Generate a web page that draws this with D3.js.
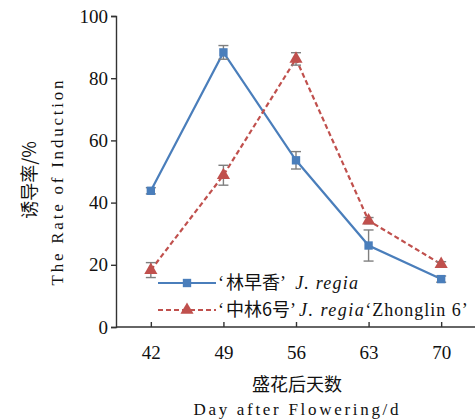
<!DOCTYPE html>
<html lang="zh">
  <head>
    <meta charset="UTF-8" />
    <script src="https://cdn.jsdelivr.net/npm/d3@7"></script>
    <style>
      body { margin: 0; background: #fff; }
      svg { display: block; }
    </style>
  </head>
  <body>
    <div id="chart"></div>
    <script>
      // data
      var days = ["42", "49", "56", "63", "70"];
      var linzaoxiang = [43.8, 88.3, 53.6, 26.2, 15.4];
      var linzaoxiangErr = [1.0, 2.2, 2.8, 5.0, 1.0];
      var zhonglin6 = [18.3, 48.8, 86.2, 34.2, 20.2];
      var zhonglin6Err = [2.4, 3.2, 2.0, 1.0, 0.8];
      var yTicks = [0, 20, 40, 60, 80, 100];

      var width = 475, height = 419;
      var svg = d3.select("#chart").append("svg")
        .attr("width", width)
        .attr("height", height);

      var x = d3.scalePoint().domain(days).range([116, 476]).padding(0.48);
      var y = d3.scaleLinear().domain([0, 100]).range([327, 16]);

      var blue = "#4a7ebb", red = "#c0504d", grey = "#7f7f7f";
      var serif = "'Liberation Serif', 'Times New Roman', serif";
      var cjk = "'Noto Sans CJK SC', sans-serif";

      // axes
      var yAxis = svg.append("g")
        .attr("transform", "translate(116,0)")
        .call(d3.axisLeft(y).tickValues(yTicks).tickSize(5).tickPadding(3));
      var xAxis = svg.append("g")
        .attr("transform", "translate(0,327)")
        .call(d3.axisBottom(x).tickSize(-5).tickPadding(14));
      xAxis.select(".domain").attr("d", "M116,0H475");

      [xAxis, yAxis].forEach(function (g) {
        g.selectAll("path, line").attr("stroke", "#333").attr("stroke-width", 1.4);
        g.selectAll("text")
          .attr("fill", "#111")
          .style("font-family", serif)
          .style("font-size", "19px");
      });
      xAxis.selectAll("text").attr("dy", "0.95em");

      var series = [
        { vals: linzaoxiang, err: linzaoxiangErr, color: blue, dash: null, shape: d3.symbolSquare, size: 70 },
        { vals: zhonglin6, err: zhonglin6Err, color: red, dash: "5,3", shape: d3.symbolTriangle, size: 75 },
      ];

      var line = d3.line()
        .x(function (d, i) { return x(days[i]); })
        .y(function (d) { return y(d); });

      series.forEach(function (s) {
        svg.append("path")
          .datum(s.vals)
          .attr("d", line)
          .attr("fill", "none")
          .attr("stroke", s.color)
          .attr("stroke-width", 2.2)
          .attr("stroke-dasharray", s.dash);
      });

      // error bars
      series.forEach(function (s) {
        var eb = svg.append("g").selectAll("g")
          .data(s.vals)
          .join("g")
          .attr("stroke", grey)
          .attr("stroke-width", 1.4);
        eb.append("line")
          .attr("x1", function (d, i) { return x(days[i]); })
          .attr("x2", function (d, i) { return x(days[i]); })
          .attr("y1", function (d, i) { return y(d + s.err[i]); })
          .attr("y2", function (d, i) { return y(d - s.err[i]); });
        [1, -1].forEach(function (sign) {
          eb.append("line")
            .attr("x1", function (d, i) { return x(days[i]) - 5; })
            .attr("x2", function (d, i) { return x(days[i]) + 5; })
            .attr("y1", function (d, i) { return y(d + sign * s.err[i]); })
            .attr("y2", function (d, i) { return y(d + sign * s.err[i]); });
        });
      });

      // markers
      series.forEach(function (s) {
        svg.append("g").selectAll("path")
          .data(s.vals)
          .join("path")
          .attr("d", d3.symbol().type(s.shape).size(s.size))
          .attr("transform", function (d, i) { return "translate(" + x(days[i]) + "," + y(d) + ")"; })
          .attr("fill", s.color);
      });

      // legend
      var legend = svg.append("g");
      var items = [
        { s: series[0], y: 283, parts: [["‘", serif, "normal", 2], ["林早香", cjk, "normal", 0], ["’ ", serif, "normal", 3], ["J. regia", serif, "italic", 1.2]] },
        { s: series[1], y: 310, parts: [["‘", serif, "normal", 2], ["中林6号", cjk, "normal", 0], ["’", serif, "normal", 3], ["J. regia", serif, "italic", 1.5], ["‘Zhonglin 6’", serif, "normal", 1]] },
      ];
      items.forEach(function (it) {
        legend.append("line")
          .attr("x1", 158).attr("x2", 216)
          .attr("y1", it.y).attr("y2", it.y)
          .attr("stroke", it.s.color)
          .attr("stroke-width", 2.2)
          .attr("stroke-dasharray", it.s.dash);
        legend.append("path")
          .attr("d", d3.symbol().type(it.s.shape).size(it.s.size))
          .attr("transform", "translate(187," + it.y + ")")
          .attr("fill", it.s.color);
        var t = legend.append("text")
          .attr("x", 218)
          .attr("y", it.y + 6)
          .attr("fill", "#111")
          .style("font-size", "18px");
        it.parts.forEach(function (p) {
          t.append("tspan")
            .text(p[0])
            .style("font-family", p[1])
            .style("font-style", p[2])
            .style("letter-spacing", p[3] + "px");
        });
      });

      // axis titles
      svg.append("text")
        .attr("x", 297).attr("y", 391)
        .attr("text-anchor", "middle")
        .style("font-family", cjk)
        .style("font-size", "18px")
        .attr("fill", "#111")
        .text("盛花后天数");
      svg.append("text")
        .attr("x", 296).attr("y", 415)
        .attr("text-anchor", "middle")
        .attr("textLength", 205)
        .attr("lengthAdjust", "spacing")
        .style("font-family", serif)
        .style("font-size", "17px")
        .attr("fill", "#111")
        .text("Day after Flowering/d");

      svg.append("text")
        .attr("transform", "translate(36,180) rotate(-90)")
        .attr("text-anchor", "middle")
        .style("font-family", cjk)
        .style("font-size", "18px")
        .attr("fill", "#111")
        .text("诱导率/%");
      svg.append("text")
        .attr("transform", "translate(63,183) rotate(-90)")
        .attr("text-anchor", "middle")
        .attr("textLength", 205)
        .attr("lengthAdjust", "spacing")
        .style("font-family", serif)
        .style("font-size", "17px")
        .attr("fill", "#111")
        .text("The Rate of Induction");
    </script>
  </body>
</html>
